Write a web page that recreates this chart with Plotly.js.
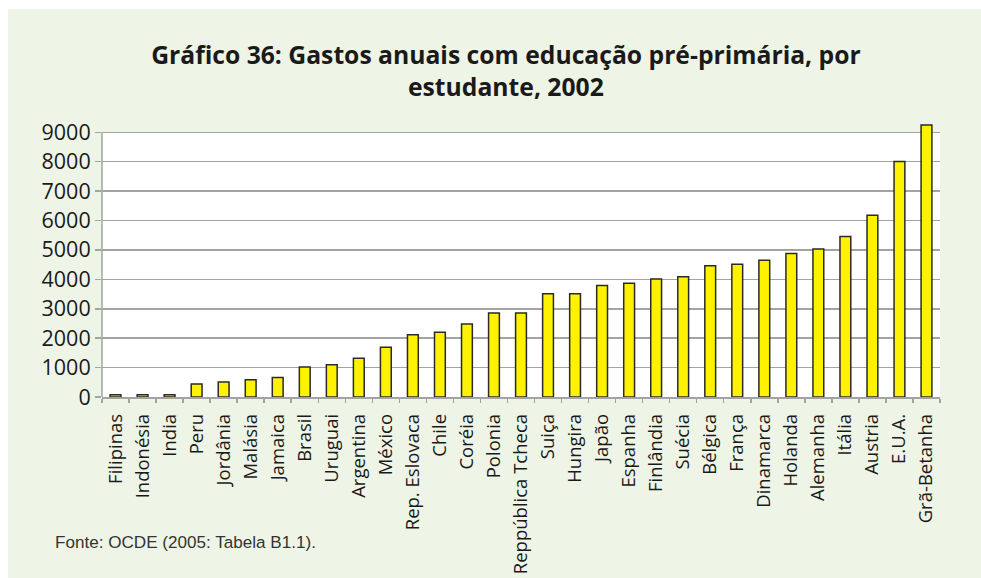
<!DOCTYPE html>
<html>
<head>
<meta charset="utf-8">
<script src="https://cdn.plot.ly/plotly-3.0.1.min.js"></script>
<style>
  html, body { margin: 0; padding: 0; background: #ffffff; width: 981px; height: 578px; overflow: hidden; }
  #chart { position: absolute; left: 8px; top: 9px; width: 973px; height: 569px; }
</style>
</head>
<body>
<div id="chart"></div>
<script>
const countries = ["Filipinas", "Indonésia", "India", "Peru", "Jordânia", "Malásia", "Jamaica", "Brasil", "Uruguai", "Argentina", "México", "Rep. Eslovaca", "Chile", "Coréia", "Polonia", "Reppública Tcheca", "Suiça", "Hungira", "Japão", "Espanha", "Finlândia", "Suécia", "Bélgica", "França", "Dinamarca", "Holanda", "Alemanha", "Itália", "Austria", "E.U.A.", "Grã-Betanha"];
const spending = [80, 80, 80, 440, 510, 590, 660, 1020, 1100, 1320, 1690, 2120, 2200, 2480, 2860, 2860, 3510, 3510, 3790, 3870, 4010, 4090, 4460, 4510, 4650, 4880, 5030, 5460, 6180, 8010, 9250];
const yTicks = [0, 1000, 2000, 3000, 4000, 5000, 6000, 7000, 8000, 9000];

const yMaxGrid = 9000;   // top of the white plotting panel
const yMaxRange = 9350;  // allow the tallest bar to rise above the panel

const trace = {
  type: "bar",
  x: countries,
  y: spending,
  marker: { color: "#FFF200", line: { color: "#2a2a2a", width: 1.5 } },
  hoverinfo: "x+y"
};

const gridColor = "#a3a3a3";
const bottomPx = 388;            // y of the x axis inside the div
const panelH = 265;              // pixel height of 0..9000
const plotH = panelH * yMaxRange / yMaxGrid;
const marginT = bottomPx - plotH;

const layout = {
  width: 973,
  height: 569,
  paper_bgcolor: "#EFF5E6",
  plot_bgcolor: "rgba(0,0,0,0)",
  margin: { l: 94, r: 41, t: marginT, b: 569 - bottomPx },
  showlegend: false,
  bargap: 0.6,
  title: {
    text: "<b>Gráfico 36: Gastos anuais com educação pré-primária, por<br>estudante, 2002</b>",
    font: { family: "Open Sans, sans-serif", size: 24.7, color: "#1a1a1a" },
    x: 0.482, xanchor: "center", xref: "paper",
    y: 0.904, yanchor: "middle", yref: "container"
  },
  xaxis: {
    type: "category",
    tickangle: -90,
    tickfont: { family: "Open Sans, sans-serif", size: 18.5, color: "#1a1a1a" },
    showline: true, linecolor: gridColor, linewidth: 1.5,
    ticks: "outside", tickson: "boundaries", ticklen: 4, tickcolor: gridColor, tickwidth: 1.5,
    ticklabelstandoff: 8,
    showgrid: false,
    automargin: false
  },
  yaxis: {
    range: [0, yMaxRange],
    tickvals: yTicks,
    ticktext: yTicks.map(String),
    tickfont: { family: "Open Sans, sans-serif", size: 21.5, color: "#1a1a1a" },
    showline: false,
    ticks: "outside", ticklen: 6, tickcolor: gridColor, tickwidth: 1.5,
    showgrid: true, gridcolor: gridColor, gridwidth: 1.5,
    zeroline: false,
    automargin: false
  },
  shapes: [
    { type: "rect", xref: "paper", yref: "y", x0: 0, x1: 1, y0: 0, y1: yMaxGrid,
      fillcolor: "#ffffff", line: { width: 0 }, layer: "below" },
    { type: "line", xref: "paper", yref: "y", x0: 0, x1: 0, y0: 0, y1: yMaxGrid,
      line: { color: gridColor, width: 1.5 }, layer: "above" }
  ],
  annotations: [{
    text: "Fonte: OCDE (2005: Tabela B1.1).",
    xref: "paper", yref: "paper",
    x: -49/838, xanchor: "left",
    y: -(534 - bottomPx) / plotH, yanchor: "middle",
    showarrow: false,
    font: { family: "Liberation Sans, Arial, sans-serif", size: 17.1, color: "#333333" }
  }]
};

Plotly.newPlot("chart", [trace], layout, { displayModeBar: false, staticPlot: true });
</script>
</body>
</html>
